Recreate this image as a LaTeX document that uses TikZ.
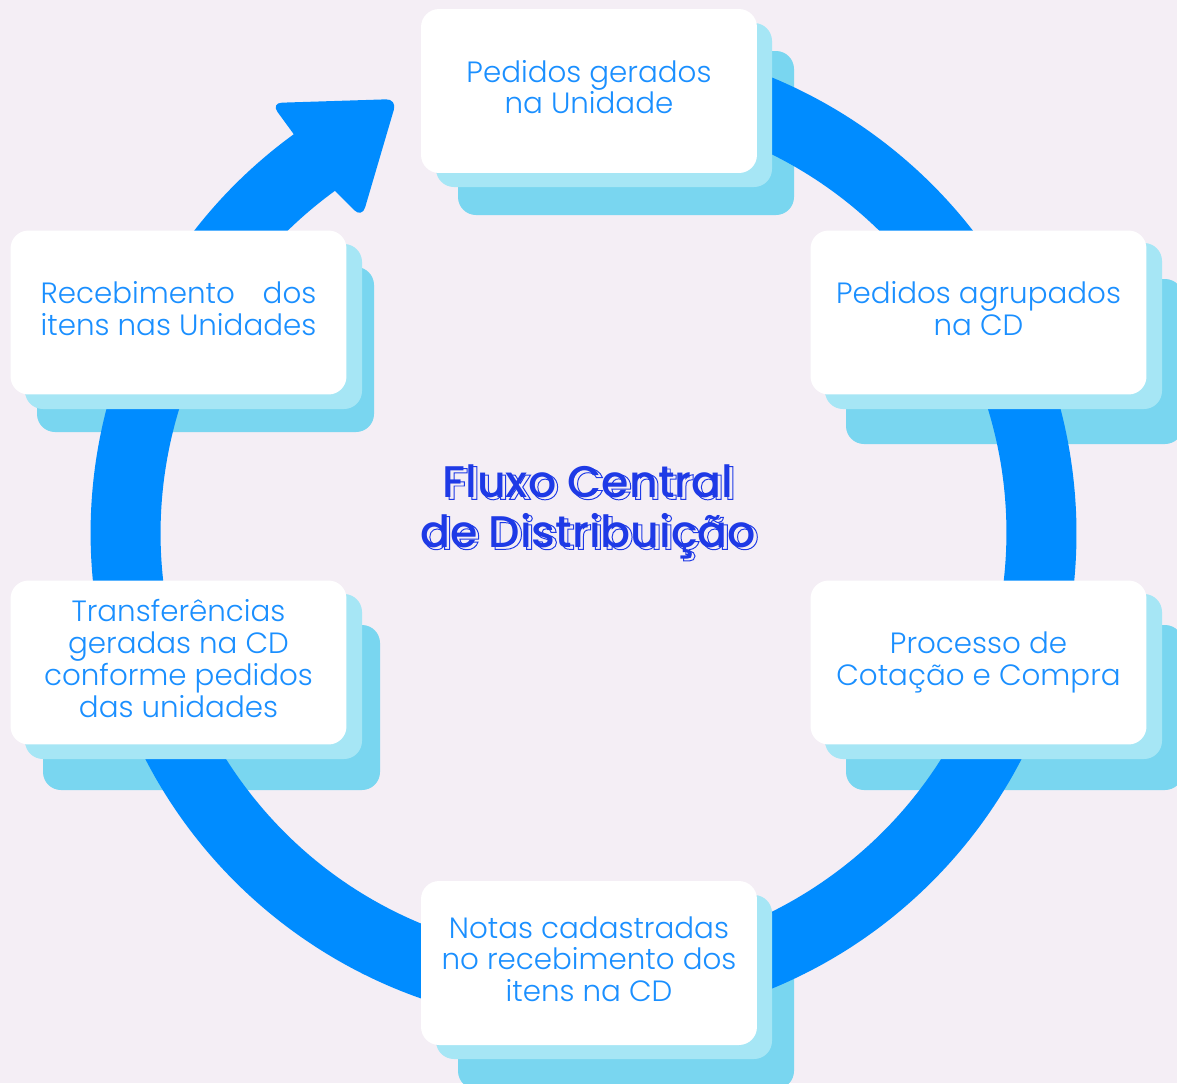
\documentclass[tikz,border=0pt]{standalone}
\usepackage{fontspec}
\usetikzlibrary{calc}
\newfontfamily\boxfont{Poppins Light}
\newfontfamily\titlefont{Poppins Medium}
\definecolor{bgc}{HTML}{F4EEF5}
\definecolor{ringc}{HTML}{008CFF}
\definecolor{layerA}{HTML}{A6E6F5}
\definecolor{layerB}{HTML}{79D6F0}
\definecolor{txtc}{HTML}{1A8FFF}
\definecolor{titc}{HTML}{1E3AE6}
\newlength\reclen
\newcommand\outl[1]{\special{pdf:literal direct 1 Tr 0.55 w}#1\special{pdf:literal direct 0 Tr}}
\begin{document}
\begin{tikzpicture}[x=0.02cm,y=-0.02cm,
  card/.style={fill=white, rounded corners=0.36cm, minimum width=6.72cm, minimum height=3.28cm, inner sep=0pt, draw=none},
  cardtext/.style={font=\boxfont\fontsize{16.7pt}{18.14pt}\selectfont, text=txtc, align=center, text depth=0pt, inner sep=0pt},
  titletext/.style={font=\titlefont\fontsize{25.2pt}{28.4pt}\selectfont, align=center, text depth=0pt, inner sep=0pt},
  lay1/.style={fill=layerA, rounded corners=0.36cm},
  lay2/.style={fill=layerB, rounded corners=0.36cm}]
\path[fill=bgc, use as bounding box] (0,0) rectangle (1177,1083);
\clip (0,0) rectangle (1177,1083);
% back shadow layers
\fill[lay2] (458,51) rectangle (794,215);
\fill[lay2] (846,279) rectangle (1183,444);
\fill[lay2] (37,267) rectangle (374,432);
\fill[lay2] (43,625) rectangle (380,790);
\fill[lay2] (846,625) rectangle (1183,790);
\fill[lay2] (458,925) rectangle (794,1089);
% ring with arrowhead
\coordinate (c) at (583.5,533);
\fill[ringc] ($(c)+(100:9.86cm)$) arc[start angle=100, end angle=-234, radius=9.86cm]
  [rounded corners=0.22cm] -- (271,103) -- (397,99) -- (362,218)
  [sharp corners] -- ($(c)+(-234:8.46cm)$) arc[start angle=-234, end angle=100, radius=8.46cm] -- cycle;
% front shadow layers
\fill[lay1] (436,23) rectangle (772,187);
\fill[lay1] (825,243) rectangle (1162,409);
\fill[lay1] (25,244) rectangle (362,409);
\fill[lay1] (25,594) rectangle (362,759);
\fill[lay1] (825,594) rectangle (1162,759);
\fill[lay1] (436,895) rectangle (772,1059);
% cards
\node[card] (T) at (589,91) {};
\node[card] (RU) at (978.5,312.5) {};
\node[card] (LU) at (178.5,312.5) {};
\node[card] (LL) at (178.5,662.5) {};
\node[card] (RL) at (978.5,662.5) {};
\node[card] (B) at (589,963) {};
\node[cardtext] (tT) at ($(T.center)+(0,-4)$) {Pedidos gerados\\na Unidade};
\node[cardtext] (tRU) at ($(RU.center)+(0,-4)$) {Pedidos agrupados\\na CD};
\node[cardtext] (tLU) at ($(LU.center)+(0,-4)$) {\settowidth{\reclen}{itens nas Unidades}\makebox[\reclen][l]{Recebimento\hfill dos}\\itens nas Unidades};
\node[cardtext] (tLL) at ($(LL.center)+(0,-4)$) {Transferências\\geradas na CD\\conforme pedidos\\das unidades};
\node[cardtext] (tRL) at ($(RL.center)+(0,-4)$) {Processo de\\Cotação e Compra};
\node[cardtext] (tB) at ($(B.center)+(0,-4)$) {Notas cadastradas\\no recebimento dos\\itens na CD};
% title
\node[titletext, text=titc] (ttlshadow) at (591,508) {\outl{Fluxo Central}\\\outl{de Distribuição}};
\node[titletext, text=titc] (ttl) at (588,506) {Fluxo Central\\de Distribuição};
\end{tikzpicture}
\end{document}
